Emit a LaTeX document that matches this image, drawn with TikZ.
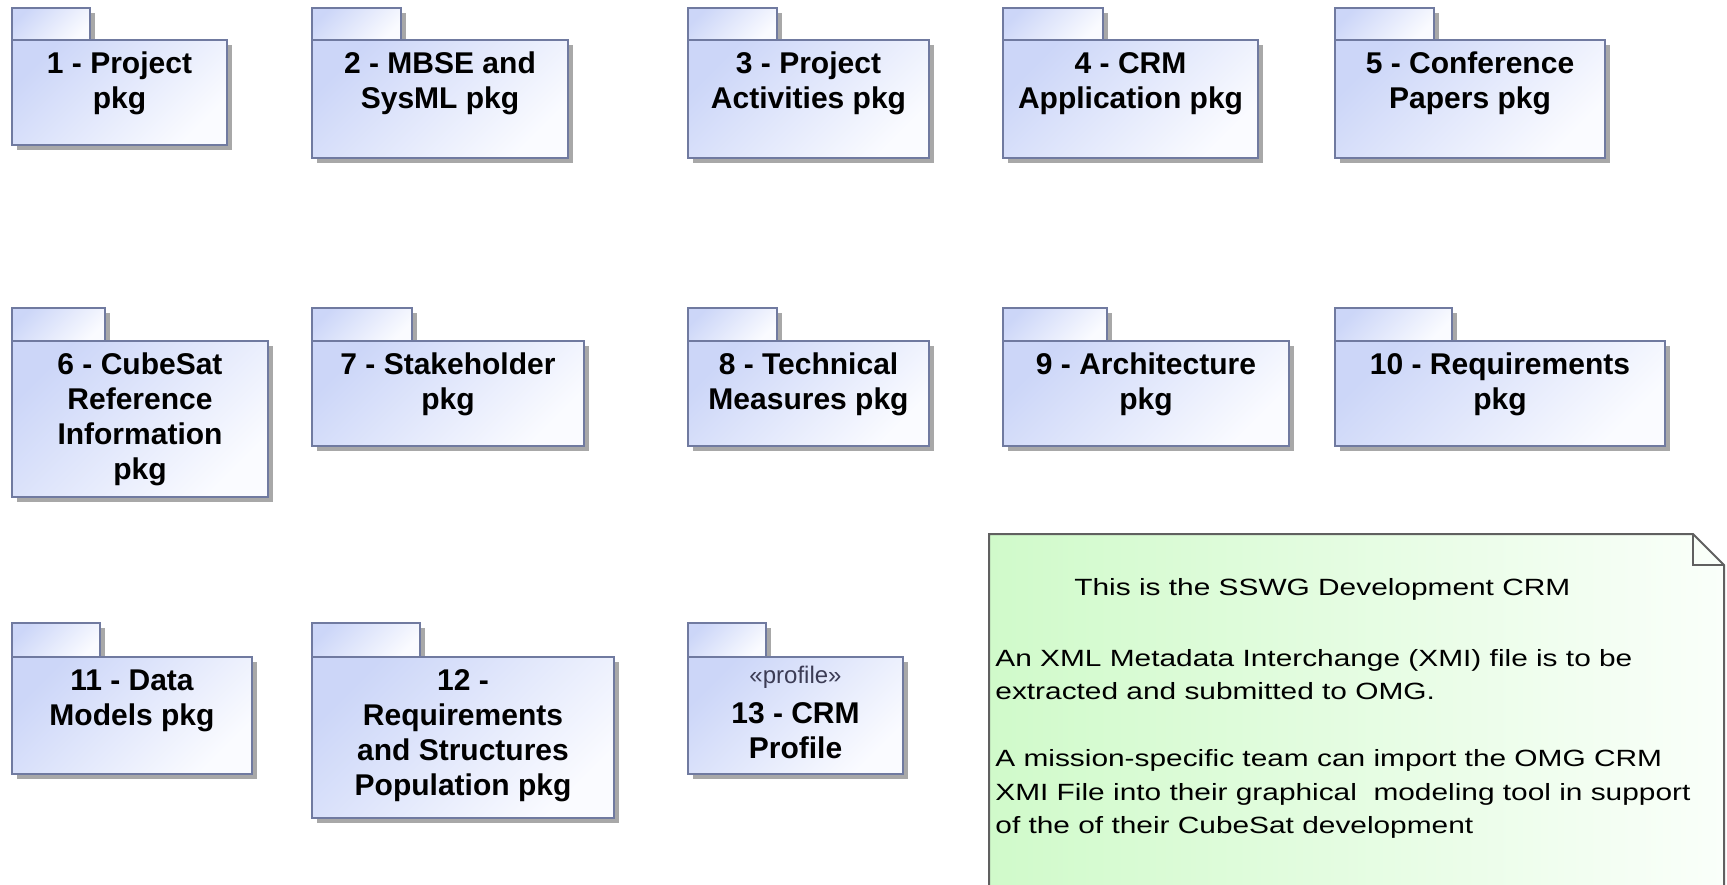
\documentclass[tikz,border=0pt]{standalone}
\usepackage{fontspec}
\setmainfont{Liberation Sans}
\newfontfamily\notefont[FakeStretch=1.27]{Liberation Sans}

\definecolor{pkgA}{RGB}{204,214,248}
\definecolor{pkgB}{RGB}{250,251,255}
\definecolor{pkgEdge}{RGB}{112,122,160}
\definecolor{pkgShadow}{RGB}{168,168,168}
\definecolor{noteA}{RGB}{208,250,202}
\definecolor{noteM}{RGB}{226,252,222}
\definecolor{noteB}{RGB}{250,255,250}
\definecolor{noteEdge}{RGB}{96,96,96}
\definecolor{stereo}{RGB}{60,60,85}

\tikzset{
  pkgshade/.style={top color=pkgA, bottom color=pkgB, shading angle=45},
  pkgline/.style={draw=pkgEdge, line width=1pt},
  pkgshadow/.style={fill=pkgShadow},
  pkgtext/.style={anchor=base, inner sep=0pt, font=\bfseries\fontsize{15}{17.5}\selectfont},
  stereotext/.style={anchor=base, inner sep=0pt, text=stereo, font=\fontsize{12}{14}\selectfont},
  noteshape/.style={left color=noteA, middle color=noteM, right color=noteB, draw=noteEdge, line width=1pt},
  notetext/.style={anchor=base west, inner sep=0pt, font=\notefont\fontsize{11.75}{16.75}\selectfont},
}

% package symbol: #1 name, #2 left, #3 right, #4 tab right,
% #5 tab top, #6 body top, #7 bottom, #8 lines of the label
\newcommand\umlpkg[8]{%
  \fill[pkgshadow] (#2+5,#5+5) rectangle (#4+5,#6+5);
  \fill[pkgshadow] (#2+5,#6+5) rectangle (#3+5,#7+5);
  \shadedraw[pkgshade, pkgline] (#2,#5) rectangle (#4,#6);
  \shadedraw[pkgshade, pkgline] (#2,#6) rectangle (#3,#7);
  \node[pkgtext] (#1) at ({(#2+#3)/2},{#6+33.5})
    {\begin{tabular}[t]{@{}c@{}}#8\end{tabular}};
}

\begin{document}
\begin{tikzpicture}[x=0.5pt, y=-0.5pt]
\useasboundingbox (0,0) rectangle (1727,884);
\fill[white] (0,0) rectangle (1727,884);
\clip (0,0) rectangle (1727,884);

% first row
\umlpkg{p1}{12}{227}{90}{8}{40}{145}{1 - Project\\pkg}
\umlpkg{p2}{312}{568}{401}{8}{40}{158}{2 - MBSE and\\SysML pkg}
\umlpkg{p3}{688}{929}{777}{8}{40}{158}{3 - Project\\Activities pkg}
\umlpkg{p4}{1003}{1258}{1103}{8}{40}{158}{4 - CRM\\Application pkg}
\umlpkg{p5}{1335}{1605}{1434}{8}{40}{158}{5 - Conference\\Papers pkg}

% second row
\umlpkg{p6}{12}{268}{105}{308}{341}{497}{6 - CubeSat\\Reference\\Information\\pkg}
\umlpkg{p7}{312}{584}{412}{308}{341}{446}{7 - Stakeholder\\pkg}
\umlpkg{p8}{688}{929}{777}{308}{341}{446}{8 - Technical\\Measures pkg}
\umlpkg{p9}{1003}{1289}{1107}{308}{341}{446}{9 - Architecture\\pkg}
\umlpkg{p10}{1335}{1665}{1452}{308}{341}{446}{10 - Requirements\\pkg}

% third row
\umlpkg{p11}{12}{252}{100}{623}{657}{774}{11 - Data\\Models pkg}
\umlpkg{p12}{312}{614}{420}{623}{657}{818}{12 -\\Requirements\\and Structures\\Population pkg}

% profile package with its stereotype
\fill[pkgshadow] (693,628) rectangle (771,662);
\fill[pkgshadow] (693,662) rectangle (908,779);
\shadedraw[pkgshade, pkgline] (688,623) rectangle (766,657);
\shadedraw[pkgshade, pkgline] (688,657) rectangle (903,774);
\node[stereotext] (p13s) at (795.5,683) {«profile»};
\node[pkgtext] (p13) at (795.5,723)
  {\begin{tabular}[t]{@{}c@{}}13 - CRM\\Profile\end{tabular}};

% comment note with folded corner
\path[noteshape] (989,534) -- (1693,534) -- (1724,565) -- (1724,960) -- (989,960) -- cycle;
\draw[draw=noteEdge, line width=1pt] (1693,534) -- (1693,565) -- (1724,565);
\node[notetext] (note) at (995,595) {\begin{tabular}[t]{@{}l@{}}%
\hspace*{39.5pt}This is the SSWG Development CRM\\[2pt]
\\
An XML Metadata Interchange (XMI) file is to be\\
extracted and submitted to OMG.\\
\\
A mission-specific team can import the OMG CRM\\
XMI File into their graphical\ \ modeling tool in support\\
of the of their CubeSat development
\end{tabular}};
\end{tikzpicture}
\end{document}
